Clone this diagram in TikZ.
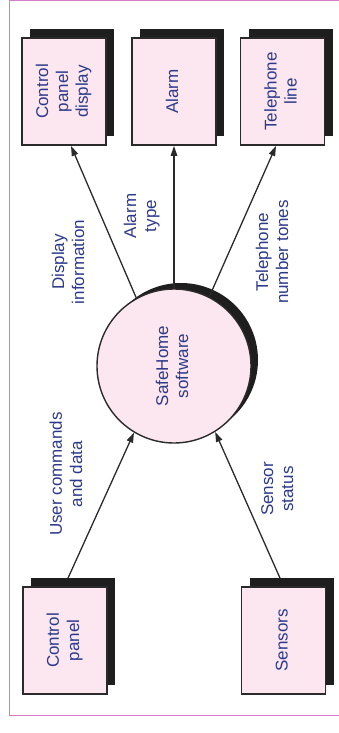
\documentclass[tikz,border=0pt]{standalone}
\usepackage{fontspec}
\setmainfont{Liberation Sans}
\usepackage{graphicx}
\usetikzlibrary{arrows.meta,shadows,calc}
\definecolor{cFill} {HTML}{FCE6EF}
\definecolor{cInk}  {HTML}{2B3A8C}
\definecolor{cEdge} {HTML}{2A2A2A}
\definecolor{cShad} {HTML}{1E1E1E}
\definecolor{cFrame}{HTML}{D67CC6}
\newcommand{\vtext}[1]{\rotatebox{90}{\begin{tabular}{@{}c@{}}#1\end{tabular}}}
\tikzset{
  ext/.style  ={draw=cEdge,line width=1.8pt,fill=cFill,text=cInk,inner sep=0pt,
                minimum width=84pt,minimum height=107pt,
                drop shadow={shadow xshift=8pt,shadow yshift=9pt,opacity=1,fill=cShad}},
  proc/.style ={circle,draw=cEdge,line width=1.4pt,fill=cFill,text=cInk,inner sep=0pt,
                minimum size=154pt,
                drop shadow={shadow xshift=7pt,shadow yshift=6pt,opacity=1,fill=cShad}},
  flow/.style ={-{Triangle[length=10pt,width=6.5pt]},draw=cEdge,line width=1.3pt},
  lbl/.style  ={text=cInk,inner sep=0pt},
}

\begin{document}
\begin{tikzpicture}[font=\fontsize{17}{20}\selectfont, x=1pt, y=-1pt]
\useasboundingbox (0,0) rectangle (339,733);

% --- frame -----------------------------------------------------------------
\draw[cFrame,line width=1.2pt] (339,0.6) -- (9.5,0.6) -- (9.5,715.5) -- (339,715.5);

% --- sinks, top row --------------------------------------------------------
\node[ext] (cpd) at (64,91.5)    {\vtext{Control\\panel\\display}};
\node[ext] (al)  at (174,91.5)   {\vtext{Alarm}};
\node[ext] (tl)  at (282.5,91.5) {\vtext{Telephone\\line}};

% --- the software itself ---------------------------------------------------
\node[proc] (sh) at (174,366) {\vtext{SafeHome\\software}};

% --- sources, bottom row ---------------------------------------------------
\node[ext] (cp) at (65,640.5)    {\vtext{Control\\panel}};
\node[ext] (sn) at (283.5,640.5) {\vtext{Sensors}};

% --- flows -----------------------------------------------------------------
\draw[flow] (sh.119) -- ($(cpd.south)+(7,0)$);
\draw[flow] (sh.north) -- (al.south);
\draw[flow] (sh.63) -- ($(tl.south)+(-6.5,0)$);
\draw[flow] ($(cp.north)+(3,-8)$) -- (sh.239);
\draw[flow] ($(sn.north)+(-3.5,-8)$) -- (sh.302);

% flow labels
\node[lbl] (ldi) at (70,262)  {\vtext{Display\\information}};
\node[lbl] (lat) at (142,216) {\vtext{Alarm\\type}};
\node[lbl] (ltn) at (274,252) {\vtext{Telephone\\number tones}};
\node[lbl] (luc) at (68,474)  {\vtext{User commands\\and data}};
\node[lbl] (lss) at (279,489) {\vtext{Sensor\\status}};

\end{tikzpicture}
\end{document}
